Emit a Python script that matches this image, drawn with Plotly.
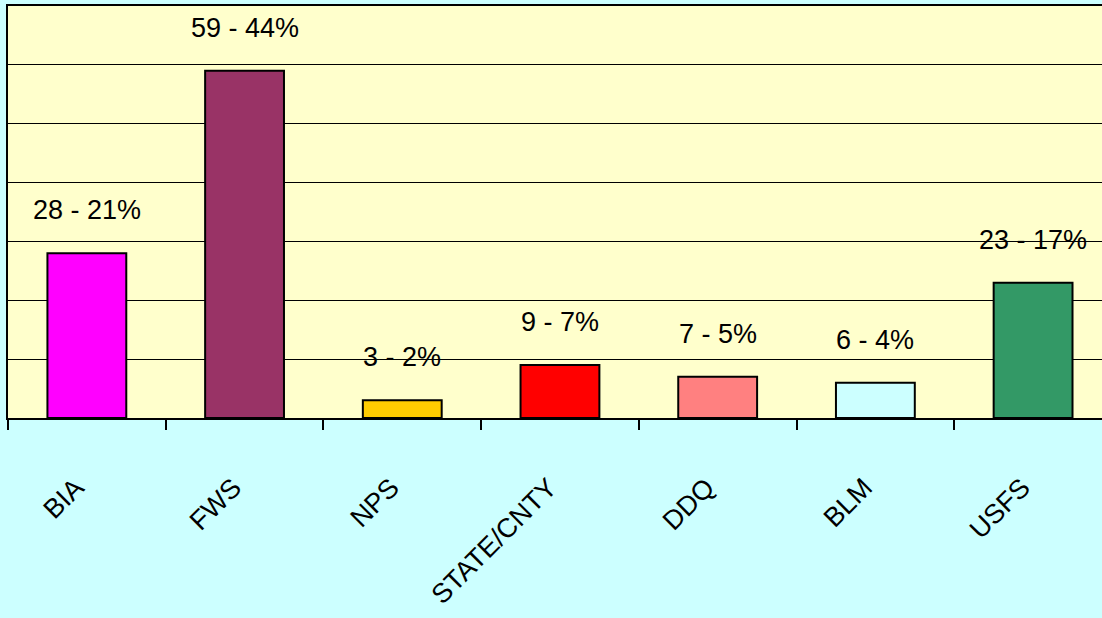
import plotly.graph_objects as go

categories = ["BIA", "FWS", "NPS", "STATE/CNTY", "DDQ", "BLM", "USFS"]
counts = [28, 59, 3, 9, 7, 6, 23]
percents = [21, 44, 2, 7, 5, 4, 17]
colors = ["#FF00FF", "#993366", "#FFCC00", "#FF0000", "#FF8080", "#CCFFFF", "#339966"]

labels = [f"{c} - {p}%" for c, p in zip(counts, percents)]
FONT = "Liberation Sans Narrow, Arial Narrow, Liberation Sans, Arial, sans-serif"

fig = go.Figure()
fig.add_trace(go.Bar(
    x=categories, y=counts,
    marker=dict(color=colors, line=dict(color="black", width=2)),
    width=0.5,
    hoverinfo="skip",
))

for c, v, t in zip(categories, counts, labels):
    fig.add_annotation(x=c, y=v, text=t, showarrow=False, yanchor="bottom",
                       yshift=26, font=dict(family=FONT, size=27, color="black"))

fig.update_layout(
    width=1102, height=618,
    margin=dict(l=8, r=0, t=6, b=200),
    paper_bgcolor="#CCFFFF",
    plot_bgcolor="#FFFFCC",
    showlegend=False,
    xaxis=dict(
        range=[-0.5, 6.437],
        showline=True, linecolor="black", linewidth=2, mirror=True,
        ticks="outside", tickson="boundaries", ticklen=10, tickwidth=2, tickcolor="black",
        tickangle=-45, ticklabelstandoff=41, ticklabelshift=-11,
        tickfont=dict(family=FONT, size=27, color="black"),
        showgrid=False,
    ),
    yaxis=dict(
        range=[0, 70], dtick=10,
        showline=True, linecolor="black", linewidth=2,
        showgrid=True, gridcolor="black", gridwidth=1,
        showticklabels=False, ticks="", zeroline=False,
    ),
)

fig.write_html(
    "out.html",
    config={"displayModeBar": False},
    post_script="document.body.style.margin='0';document.body.style.background='#CCFFFF';",
)
